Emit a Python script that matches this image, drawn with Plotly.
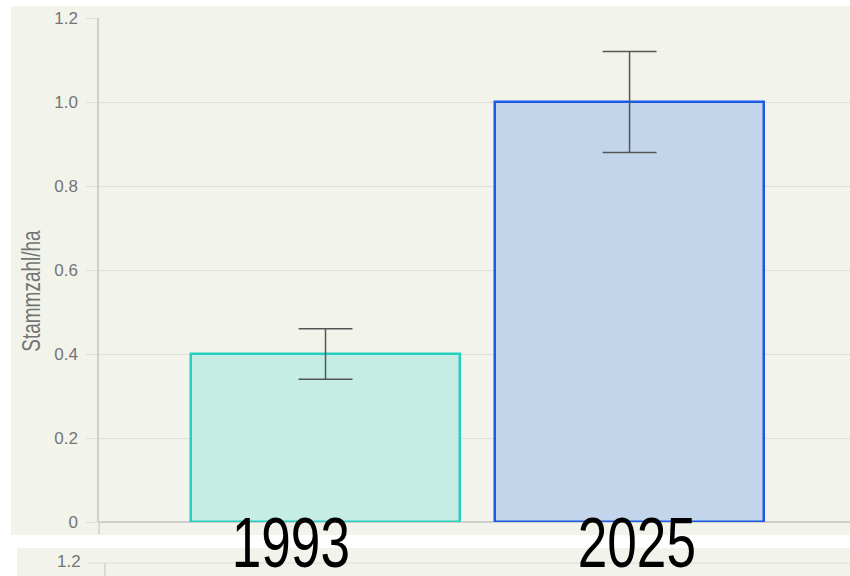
import json
import plotly.graph_objects as go

# ---- data ----
years = ["1993", "2025"]
stammzahl = [0.4, 1.0]
err = [0.06, 0.12]
fill_colors = ["#c5ede3", "#c3d5ea"]
line_colors = ["#26cfc0", "#1a5ae6"]
y_ticks = [0, 0.2, 0.4, 0.6, 0.8, 1.0, 1.2]
y_tick_text = ["0", "0.2", "0.4", "0.6", "0.8", "1.0", "1.2"]
y_title = "Stammzahl/ha"
label_shift = [-35, 7]

W, H = 850, 576
L, R, T, B = 99, 0, 18, 54
PW, PH = W - L - R, H - T - B

def px(x):
    return (x - L) / PW

def py(y):
    return (H - B - y) / PH

BG = "#f2f4ec"
GRID = "#dddfd8"
AXIS = "#cfd0cb"
TXT = "#747474"

fig = go.Figure()
fig.add_trace(go.Bar(
    x=years, y=stammzahl, width=0.885,
    marker=dict(color=fill_colors, line=dict(color=line_colors, width=2.5)),
    error_y=dict(type="data", array=err, visible=True, color="#555555",
                 thickness=1.5, width=27),
    showlegend=False,
))

shapes = [
    dict(type="rect", xref="paper", yref="paper", x0=px(11), x1=px(870),
         y0=py(535), y1=py(6), fillcolor=BG, line=dict(width=0), layer="below"),
    dict(type="rect", xref="paper", yref="paper", x0=px(17), x1=px(870),
         y0=py(590), y1=py(548), fillcolor=BG, line=dict(width=0), layer="below"),
    dict(type="line", xref="paper", yref="paper", x0=px(88), x1=px(870),
         y0=py(563), y1=py(563), line=dict(color=GRID, width=1), layer="below"),
    dict(type="line", xref="paper", yref="paper", x0=px(105), x1=px(105),
         y0=py(563), y1=py(590), line=dict(color=AXIS, width=1.5), layer="below"),
    dict(type="line", xref="paper", yref="paper", x0=0, x1=0,
         y0=0, y1=py(534), line=dict(color=AXIS, width=1.5), layer="below"),
]

annotations = [
    dict(text=y_title, xref="paper", yref="paper", x=px(31), y=py(291),
         textangle=-90, showarrow=False, xanchor="center", yanchor="middle",
         font=dict(family="Liberation Sans, Arial, sans-serif", size=25, color=TXT)),
    dict(text=y_tick_text[-1], xref="paper", yref="paper", x=px(83), y=py(561),
         showarrow=False, xanchor="right", yanchor="middle",
         font=dict(family="Liberation Sans, Arial, sans-serif", size=17, color=TXT)),
]
for i, (yr, sh) in enumerate(zip(years, label_shift)):
    annotations.append(dict(
        text=yr, x=i, xref="x", yref="paper", y=py(543), xshift=sh,
        showarrow=False, xanchor="center", yanchor="middle",
        font=dict(family="Liberation Sans, Arial, sans-serif", size=70, color="#000000"),
    ))

fig.update_layout(
    width=W, height=H,
    margin=dict(l=L, r=R, t=T, b=B, pad=0),
    paper_bgcolor="#ffffff",
    plot_bgcolor="rgba(0,0,0,0)",
    shapes=shapes,
    annotations=annotations,
    bargap=0,
    xaxis=dict(type="category", range=[-0.745, 1.725], showticklabels=False,
               showgrid=False, zeroline=False, showline=False, ticks=""),
    yaxis=dict(range=[0, 1.2], tickvals=y_ticks, ticktext=y_tick_text,
               showgrid=True, gridcolor=GRID, gridwidth=1,
               zeroline=True, zerolinecolor=AXIS, zerolinewidth=1.5,
               showline=True, linecolor=AXIS, linewidth=1.5,
               ticks="outside", ticklen=11, tickcolor=GRID, tickwidth=1,
               ticklabelstandoff=5,
               tickfont=dict(family="Liberation Sans, Arial, sans-serif", size=17, color=TXT)),
)

# page without body margin; condensed look for the year labels and the axis title
post = """
document.body.style.margin = '0';
document.body.style.overflow = 'hidden';
var labels = %s;
var gd = document.getElementById('{plot_id}');
gd.querySelectorAll('g.annotation text').forEach(function(t){
  if (labels.indexOf(t.textContent) >= 0) {
    t.style.transformBox = 'fill-box';
    t.style.transformOrigin = 'center';
    t.style.transform = 'scaleX(0.76)';
  }
});
""" % json.dumps(years + [y_title])

fig.write_html("out.html", post_script=post, config={"displayModeBar": False})
